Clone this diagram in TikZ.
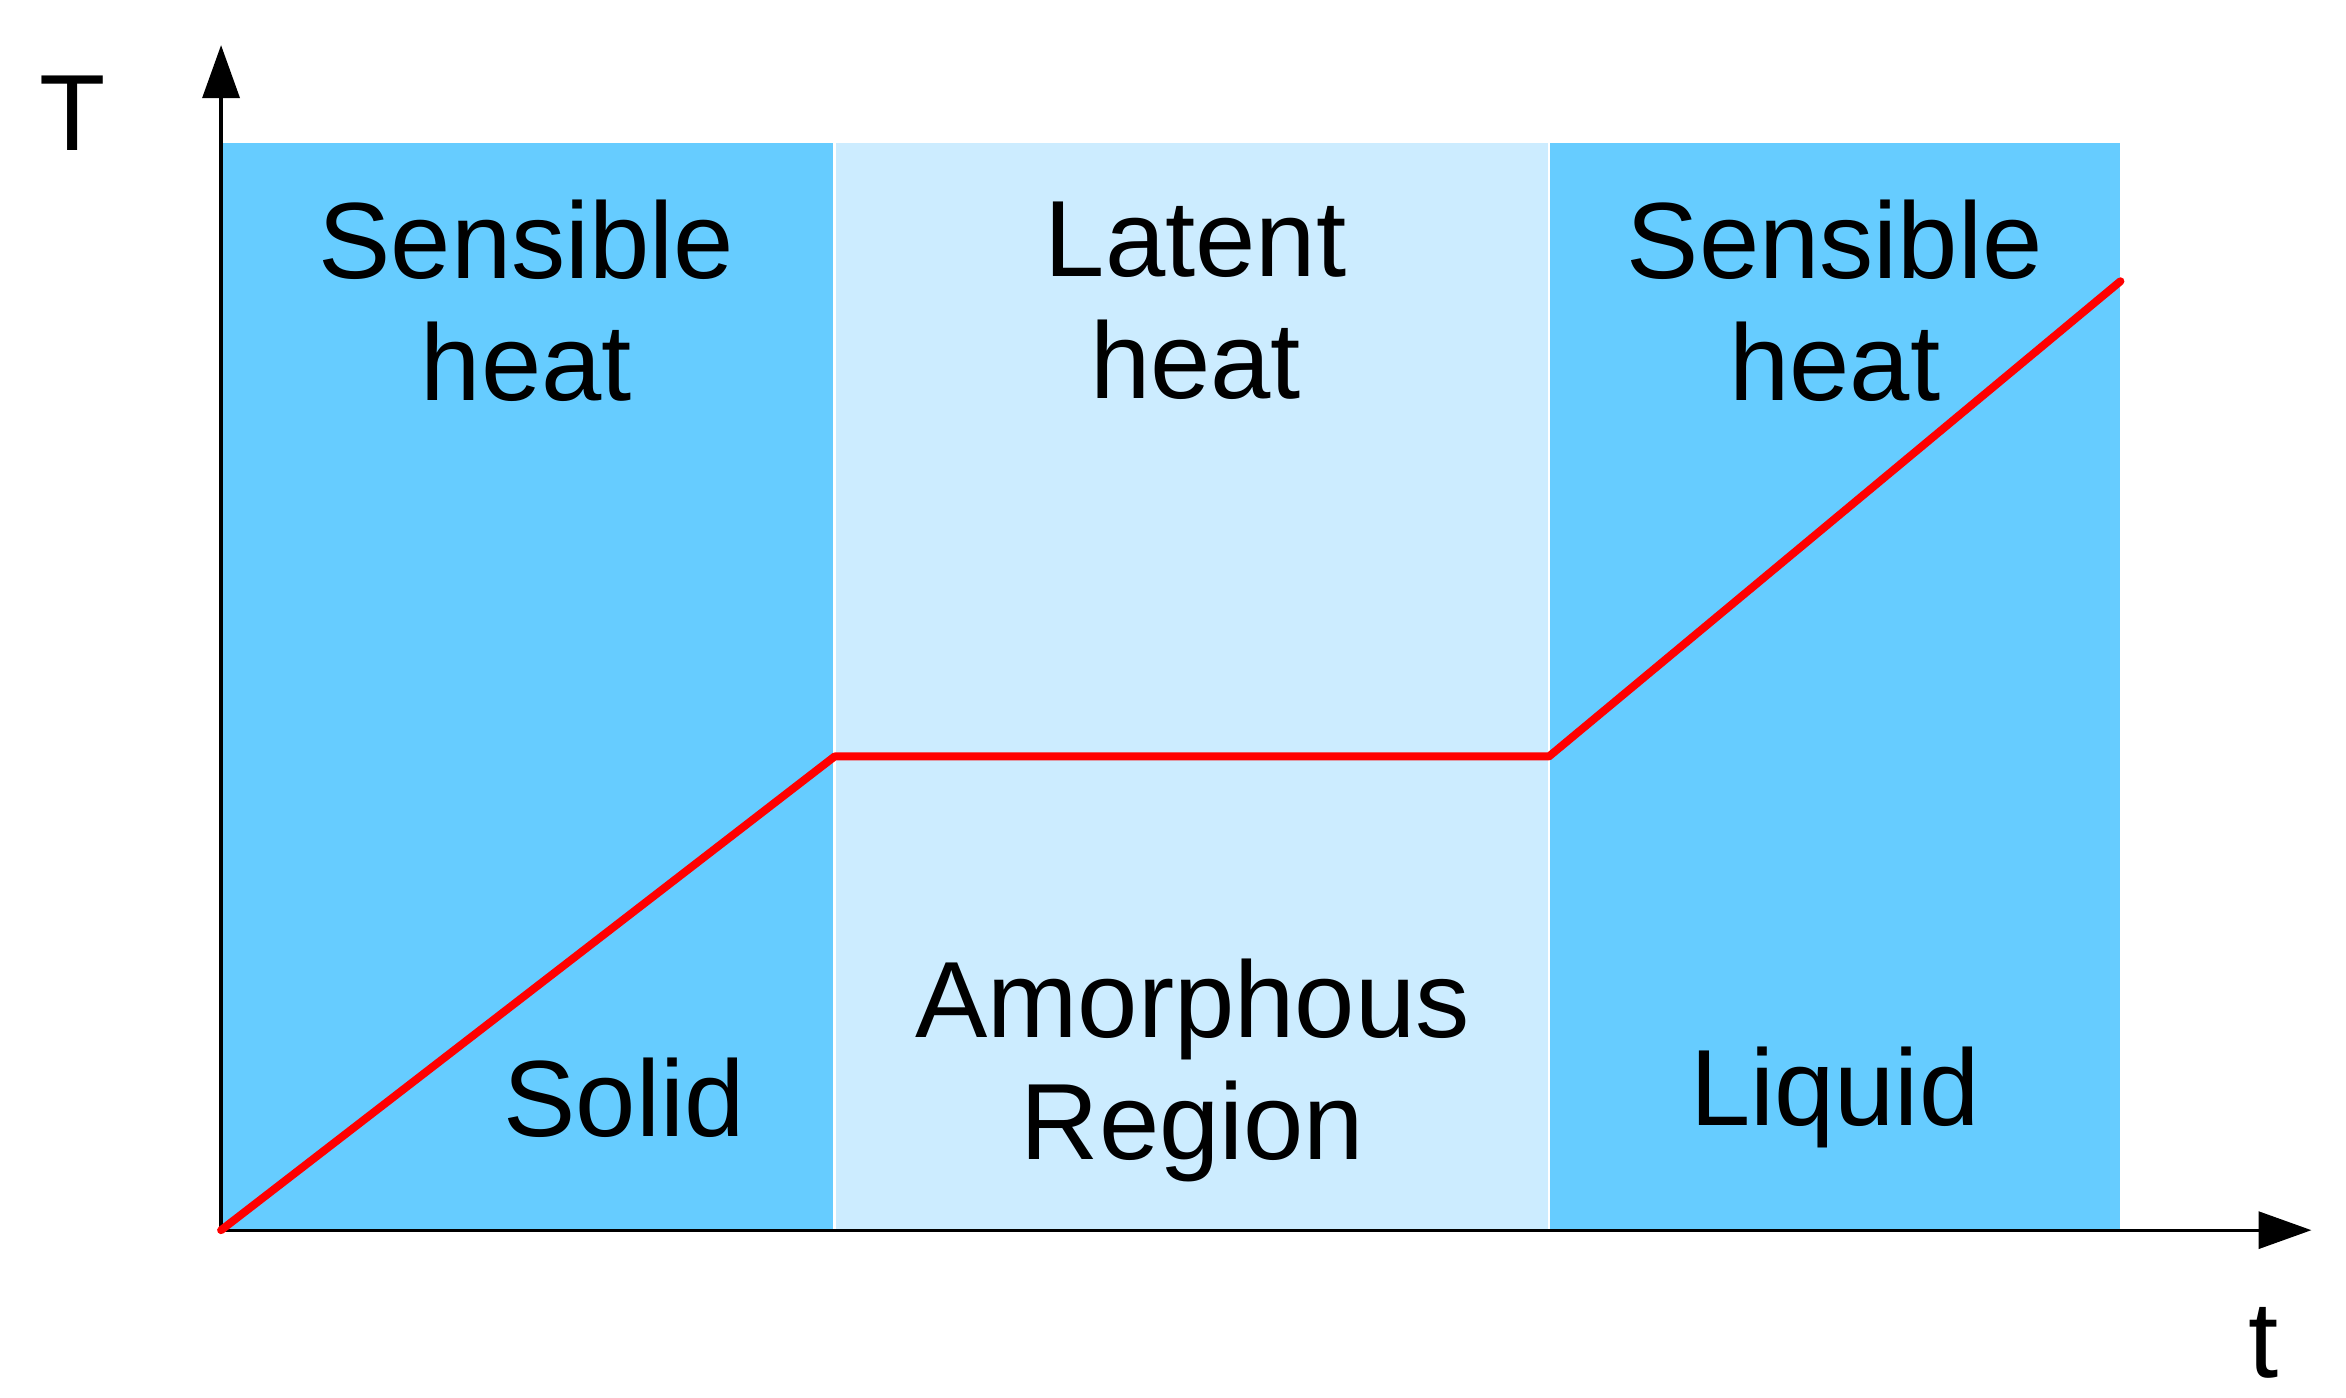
\documentclass[tikz,border=0pt]{standalone}
\usepackage{fontspec}
\setmainfont{Liberation Sans}
\usetikzlibrary{arrows.meta}
\definecolor{dark}{HTML}{66CCFF}
\definecolor{light}{HTML}{CCECFF}
\tikzset{lbl/.style={font=\fontsize{20.5}{23}\selectfont,align=center,inner sep=0pt},
ax/.style={line width=0.6pt,-{Triangle[length=10pt,width=7pt]}}}
\begin{document}
\begin{tikzpicture}[x=0.01cm,y=-0.01cm]
\useasboundingbox (0,0) rectangle (1560,929);
\fill[dark] (147,95) rectangle (555,818);
\fill[light] (555,95) rectangle (1030,818);
\fill[dark] (1030,95) rectangle (1410,818);
\draw[white,line width=0.5pt] (555,95) -- (555,818) (1030,95) -- (1030,818);
\coordinate (o) at (147,818);
\coordinate (ytop) at (147,30);
\coordinate (xend) at (1537,818);
\draw[ax] (o) -- (ytop);
\draw[ax] (o) -- (xend);
\coordinate (p1) at (555,503);
\coordinate (p2) at (1030,503);
\coordinate (p3) at (1410,187);
\draw[red,line width=1.5pt,line cap=round,line join=round] (o) -- (p1) -- (p2) -- (p3);
\node[lbl] (T) at (48,75) {T};
\node[lbl] (t) at (1505,893) {t};
\node[lbl] (s1) at (350,200) {Sensible\\heat};
\node[lbl] (lh) at (795,200) {Latent\\heat};
\node[lbl] (s2) at (1220,200) {Sensible\\heat};
\node[lbl] (sol) at (415,730) {Solid};
\node[lbl] (am) at (793,712) {Amorphous\\Region};
\node[lbl] (liq) at (1220,730) {Liquid};
\end{tikzpicture}
\end{document}
